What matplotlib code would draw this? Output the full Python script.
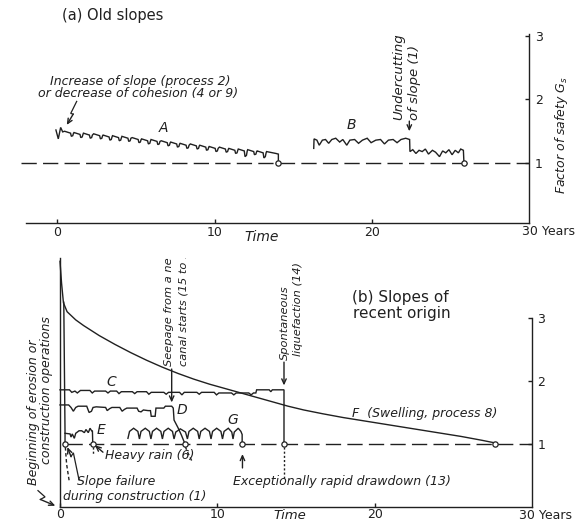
import matplotlib
matplotlib.use('Agg')
import matplotlib.pyplot as plt

plt.rcParams['font.family'] = ['DejaVu Sans']
plt.rcParams['lines.scale_dashes'] = False
plt.rcParams['mathtext.fontset'] = 'dejavusans'

INK = '#202020'
W, H = 578, 521

# ---------------- data ----------------
x_ticks = [0, 10, 20]
x_tick_labels = ['0', '10', '20']
y_ticks = [1, 2, 3]
y_tick_labels = ['1', '2', '3']
critical_gs = 1.0

# (a) old slopes
A_x = [-0.1, 0.05, 0.2, 0.33,
       0.45, 0.83, 0.88, 0.97, 1.02,
       1.05, 1.43, 1.48, 1.57, 1.62,
       1.65, 2.03, 2.08, 2.17, 2.22,
       2.3, 2.68, 2.73, 2.82, 2.87,
       2.9, 3.28, 3.33, 3.42, 3.47,
       3.5, 3.88, 3.93, 4.02, 4.07,
       4.1, 4.48, 4.53, 4.62, 4.67,
       4.75, 5.13, 5.18, 5.27, 5.32,
       5.35, 5.73, 5.78, 5.87, 5.92,
       5.95, 6.33, 6.38, 6.47, 6.52,
       6.6, 6.98, 7.03, 7.12, 7.17,
       7.2, 7.58, 7.63, 7.72, 7.77,
       7.8, 8.18, 8.23, 8.32, 8.37,
       8.45, 8.83, 8.88, 8.97, 9.02,
       9.05, 9.43, 9.48, 9.57, 9.62,
       9.65, 10.03, 10.08, 10.17, 10.22,
       10.3, 10.68, 10.73, 10.82, 10.87,
       10.9, 11.28, 11.33, 11.42, 11.47,
       11.5, 11.88, 11.93, 12.02, 12.07,
       12.1, 12.48, 12.53, 12.62, 12.67,
       12.7, 13.08, 13.13, 13.22, 13.27,
       13.3, 13.7, 13.9, 14.05, 14.05]
A_y = [1.52, 1.38, 1.56, 1.49,
       1.50, 1.47, 1.42, 1.43, 1.47,
       1.48, 1.45, 1.40, 1.41, 1.45,
       1.47, 1.44, 1.39, 1.40, 1.44,
       1.46, 1.43, 1.38, 1.39, 1.43,
       1.44, 1.41, 1.36, 1.37, 1.41,
       1.43, 1.40, 1.35, 1.36, 1.40,
       1.42, 1.39, 1.34, 1.35, 1.39,
       1.40, 1.37, 1.32, 1.33, 1.37,
       1.38, 1.35, 1.30, 1.31, 1.35,
       1.37, 1.34, 1.29, 1.30, 1.34,
       1.35, 1.32, 1.27, 1.28, 1.32,
       1.33, 1.30, 1.25, 1.26, 1.30,
       1.31, 1.28, 1.23, 1.24, 1.28,
       1.30, 1.27, 1.22, 1.23, 1.27,
       1.28, 1.25, 1.20, 1.21, 1.25,
       1.26, 1.23, 1.18, 1.19, 1.23,
       1.25, 1.22, 1.17, 1.18, 1.22,
       1.23, 1.20, 1.15, 1.16, 1.20,
       1.22, 1.19, 1.10, 1.12, 1.19,
       1.21, 1.18, 1.13, 1.14, 1.18,
       1.19, 1.16, 1.08, 1.10, 1.16,
       1.18, 1.16, 1.15, 1.14, 1.03]
B_x = [16.3, 16.32, 16.5, 16.65, 16.85, 17.05, 17.25, 17.45, 17.7, 17.95,
       18.15, 18.4, 18.6, 18.9, 19.15, 19.4, 19.7, 19.95, 20.25, 20.55,
       20.8, 21.05, 21.35, 21.6, 21.85, 22.15, 22.4, 22.42,
       22.6, 22.8, 23.0, 23.2, 23.4, 23.6, 23.85, 24.05, 24.3, 24.5,
       24.7, 24.9, 25.1, 25.3, 25.5, 25.65, 25.82, 25.85]
B_y = [1.23, 1.38, 1.36, 1.28, 1.36, 1.37, 1.31, 1.37, 1.39, 1.33,
       1.37, 1.28, 1.36, 1.37, 1.31, 1.36, 1.39, 1.32, 1.36, 1.37,
       1.30, 1.36, 1.37, 1.32, 1.37, 1.39, 1.37, 1.18,
       1.21, 1.15, 1.20, 1.18, 1.22, 1.14, 1.20, 1.17, 1.10, 1.19,
       1.16, 1.21, 1.13, 1.20, 1.16, 1.22, 1.20, 1.03]
old_failures_x = [14.05, 25.85]

# (b) slopes of recent origin
C_x = [0, 0.6, 0.75, 0.95, 1.1, 1.3, 1.9, 2.05, 2.2, 2.9, 3.05, 3.2, 3.6, 3.75, 3.9,
       4.6, 4.75, 4.9, 5.5, 5.65, 5.8, 6.6, 6.75, 6.9, 7.6, 7.75, 7.9, 8.7, 8.85, 9.0,
       9.8, 9.95, 10.1, 10.9, 11.05, 11.2, 12.0, 12.15, 12.3, 12.45, 12.5, 13.3, 13.4,
       13.5, 14.24, 14.24]
C_y = [1.86, 1.86, 1.82, 1.84, 1.81, 1.85, 1.85, 1.81, 1.84, 1.84, 1.81, 1.84, 1.84, 1.80, 1.83,
       1.83, 1.80, 1.83, 1.83, 1.79, 1.82, 1.82, 1.79, 1.82, 1.82, 1.78, 1.82, 1.82, 1.79, 1.82,
       1.82, 1.78, 1.81, 1.81, 1.78, 1.81, 1.81, 1.78, 1.81, 1.81, 1.86, 1.86, 1.83,
       1.86, 1.86, 1.03]
D_x = [0, 0.55, 0.7, 0.85, 1.0, 1.15, 1.7, 1.85, 2.0, 2.1, 2.3, 2.9, 3.0, 3.15, 3.3,
       3.8, 3.95, 4.1, 4.25, 4.9, 5.0, 5.15, 5.3, 5.6, 5.75, 5.8, 6.05, 6.1, 6.6, 6.7,
       7.1, 7.2, 7.25, 7.5, 7.72, 7.9]
D_y = [1.62, 1.62, 1.58, 1.52, 1.58, 1.60, 1.60, 1.50, 1.52, 1.58, 1.59, 1.58, 1.53, 1.56, 1.58,
       1.58, 1.52, 1.55, 1.57, 1.57, 1.52, 1.51, 1.54, 1.53, 1.53, 1.44, 1.44, 1.57, 1.57, 1.60,
       1.60, 1.57, 1.38, 1.26, 1.14, 1.03]
D_after_x = [7.96, 8.15, 8.4]
D_after_y = [0.96, 0.85, 0.72]
E_x = [0.32, 0.64, 0.70, 0.78, 0.91, 1.0, 1.21, 1.38, 1.55, 1.65, 1.8, 1.91, 2.01, 2.06, 2.08]
E_y = [1.17, 1.16, 1.11, 1.16, 1.09, 1.17, 1.21, 1.21, 1.18, 1.23, 1.18, 1.25, 1.21, 1.21, 1.03]
construction_x = [0.24, 0.32, 0.32]
construction_y = [3.25, 1.17, 1.03]
construction_after_x = [0.34, 0.42, 0.58]
construction_after_y = [0.95, 0.68, 0.42]
F_x = [0.0, 0.1, 0.22, 0.45, 1.0, 1.5, 2.5, 3.5, 4.5, 5.5, 6.5, 7.5, 8.5, 9.5, 10.5,
       11.5, 12.5, 13.5, 14.5, 15.5, 16.7, 18.0, 19.5, 21.0, 22.5, 24.0, 25.5, 26.8, 27.6]
F_y = [3.9, 3.55, 3.24, 3.1, 2.97, 2.88, 2.72, 2.58, 2.45, 2.33, 2.22, 2.12, 2.03, 1.95, 1.88,
       1.81, 1.74, 1.67, 1.60, 1.54, 1.48, 1.42, 1.36, 1.30, 1.24, 1.18, 1.12, 1.06, 1.02]
G_x = [4.32, 4.42, 4.68, 4.95, 5.05, 5.15, 5.42, 5.68, 5.78, 5.88, 6.14, 6.41,
       6.51, 6.61, 6.88, 7.15, 7.25, 7.36, 7.65, 7.98, 8.1, 8.2, 8.47, 8.75,
       8.85, 8.95, 9.22, 9.5, 9.6, 9.7, 9.96, 10.23, 10.33, 10.43, 10.7, 10.92,
       11.0, 11.08, 11.33, 11.5, 11.58, 11.58]
G_y = [1.09, 1.20, 1.25, 1.20, 1.08, 1.20, 1.25, 1.20, 1.08, 1.20, 1.25, 1.20,
       1.08, 1.20, 1.25, 1.20, 1.08, 1.19, 1.24, 1.19, 1.08, 1.20, 1.25, 1.20,
       1.08, 1.20, 1.25, 1.20, 1.08, 1.20, 1.25, 1.20, 1.08, 1.20, 1.25, 1.19,
       1.08, 1.19, 1.25, 1.20, 1.15, 1.03]
recent_failures_x = [0.32, 2.08, 7.93, 11.58, 14.24, 27.65]

# ---------------- figure ----------------
fig = plt.figure(figsize=(W / 100, H / 100), dpi=100)
fig.patch.set_facecolor('white')


def axes_from_px(x0, y0, sx, sy, xlim, ylim):
    left = x0 + xlim[0] * sx
    right = x0 + xlim[1] * sx
    top = y0 - ylim[1] * sy
    bottom = y0 - ylim[0] * sy
    ax = fig.add_axes([left / W, 1 - bottom / H, (right - left) / W, (bottom - top) / H])
    ax.set_xlim(*xlim)
    ax.set_ylim(*ylim)
    ax.patch.set_alpha(0)
    return ax


def frame(ax, xaxis_y, xaxis_from, right_from, right_to, left_spine=None, xpad=2):
    ax.spines['top'].set_visible(False)
    if left_spine is None:
        ax.spines['left'].set_visible(False)
    else:
        ax.spines['left'].set_position(('data', 0))
        ax.spines['left'].set_bounds(0, left_spine)
    ax.spines['bottom'].set_position(('data', xaxis_y))
    ax.spines['bottom'].set_bounds(xaxis_from, 30)
    ax.spines['right'].set_position(('data', 30))
    ax.spines['right'].set_bounds(right_from, right_to)
    for s in ax.spines.values():
        s.set_color(INK)
        s.set_linewidth(1.0)
    ax.yaxis.tick_right()
    ax.set_xticks(x_ticks)
    ax.set_xticklabels(x_tick_labels)
    ax.set_yticks(y_ticks)
    ax.set_yticklabels(y_tick_labels)
    ax.tick_params(axis='x', direction='in', length=3, width=1.0, pad=xpad,
                   labelsize=9, colors=INK)
    ax.tick_params(axis='y', direction='in', length=3, width=1.0, pad=4,
                   labelsize=9, colors=INK, left=False, right=True)


def line(ax, xs, ys, **kw):
    kw.setdefault('color', INK)
    kw.setdefault('lw', 1.0)
    ax.plot(xs, ys, solid_joinstyle='miter', **kw)


def arrow(ax, tail, tip):
    ax.annotate('', xy=tip, xytext=tail,
                arrowprops=dict(arrowstyle='->,head_length=0.35,head_width=0.16',
                                color=INK, lw=1.0, shrinkA=0, shrinkB=0))


def zigzag(ax, xs, ys):
    line(ax, xs[:-1], ys[:-1], lw=0.9)
    arrow(ax, (xs[-2], ys[-2]), (xs[-1], ys[-1]))


def circles(ax, xs):
    ax.plot(xs, [critical_gs] * len(xs), 'o', ms=3.8, mfc='white', mec=INK,
            mew=0.9, zorder=6, clip_on=False)


IT = dict(style='italic', color=INK)

# ---------- (a) Old slopes ----------
ax1 = axes_from_px(57.5, 226.5, 15.72, 63.5, (-3.6, 33.0), (-0.12, 3.5))
frame(ax1, 0.05, -2.0, 0.05, 3.03)
ax1.plot([-2.3, 30], [critical_gs, critical_gs], color=INK, lw=1.0, dashes=(11, 4.5))
line(ax1, A_x, A_y)
line(ax1, B_x, B_y)
circles(ax1, old_failures_x)

ax1.text(0.29, 3.33, '(a) Old slopes', fontsize=10.5, color=INK, va='center', ha='left')
ax1.text(-0.48, 2.29, 'Increase of slope (process 2)', fontsize=9, va='center', **IT)
ax1.text(-1.24, 2.09, 'or decrease of cohesion (4 or 9)', fontsize=9, va='center', **IT)
zigzag(ax1, [1.22, 0.84, 1.0, 0.59], [1.97, 1.78, 1.77, 1.60])
ax1.text(6.73, 1.55, 'A', fontsize=10, ha='center', va='center', **IT)
ax1.text(18.71, 1.60, 'B', fontsize=10, ha='center', va='center', **IT)
ax1.text(21.68, 1.68, 'Undercutting', fontsize=9.5, rotation=90, ha='center', va='bottom', **IT)
ax1.text(22.74, 1.68, 'of slope (1)', fontsize=9.5, rotation=90, ha='center', va='bottom', **IT)
arrow(ax1, (22.38, 1.66), (22.38, 1.50))
ax1.text(32.07, 1.44, r'Factor of safety $G_s$', fontsize=9, rotation=90,
         ha='center', va='center', **IT)
ax1.text(12.98, -0.16, 'Time', fontsize=10, ha='center', va='center', **IT)
ax1.text(29.52, -0.08, '30 Years', fontsize=9, color=INK, ha='left', va='center')

# ---------- (b) Slopes of recent origin ----------
ax2 = axes_from_px(60, 507, 15.73, 63, (-3.75, 32.85), (-0.2, 3.95))
frame(ax2, 0.0, 0.0, 0.0, 3.0, left_spine=3.95, xpad=1)
ax2.plot([0.45, 30], [critical_gs, critical_gs], color=INK, lw=1.0, dashes=(11, 4.5))
line(ax2, F_x, F_y)
line(ax2, C_x, C_y)
line(ax2, D_x, D_y)
line(ax2, E_x, E_y)
line(ax2, G_x, G_y)
line(ax2, construction_x, construction_y)
line(ax2, construction_after_x, construction_after_y, dashes=(2.5, 1.8))
line(ax2, D_after_x, D_after_y, dashes=(2.5, 1.8))
line(ax2, [2.08, 2.08], [0.95, 0.84], dashes=(1.5, 1.5))
line(ax2, [14.24, 14.24], [0.95, 0.45], dashes=(1.5, 1.5))
circles(ax2, recent_failures_x)

ax2.text(18.56, 3.32, '(b) Slopes of', fontsize=11, color=INK, ha='left', va='center')
ax2.text(18.63, 3.07, 'recent origin', fontsize=11, color=INK, ha='left', va='center')
ax2.text(3.29, 1.99, 'C', fontsize=10, ha='center', va='center', **IT)
ax2.text(7.74, 1.54, 'D', fontsize=10, ha='center', va='center', **IT)
ax2.text(2.6, 1.22, 'E', fontsize=10, ha='center', va='center', **IT)
ax2.text(11.0, 1.38, 'G', fontsize=10, ha='center', va='center', **IT)
ax2.text(18.55, 1.49, 'F  (Swelling, process 8)', fontsize=9, ha='left', va='center', **IT)
ax2.text(2.86, 0.81, 'Heavy rain (6)', fontsize=9, ha='left', va='center', **IT)
arrow(ax2, (2.73, 0.87), (2.22, 0.98))
ax2.text(1.08, 0.40, 'Slope failure', fontsize=9, ha='left', va='center', **IT)
ax2.text(0.19, 0.16, 'during construction (1)', fontsize=9, ha='left', va='center', **IT)
zigzag(ax2, [1.21, 0.85, 0.70, 0.47], [0.43, 0.86, 0.80, 0.95])
ax2.text(11.0, 0.40, 'Exceptionally rapid drawdown (13)', fontsize=9, ha='left',
         va='center', **IT)
arrow(ax2, (11.6, 0.62), (11.6, 0.84))
ax2.text(6.95, 2.24, 'Seepage from a new', fontsize=8.2, rotation=90, ha='center',
         va='bottom', clip_on=True, **IT)
ax2.text(7.85, 2.24, 'canal starts (15 to 18)', fontsize=8.2, rotation=90, ha='center',
         va='bottom', clip_on=True, **IT)
arrow(ax2, (7.1, 2.19), (7.1, 1.66))
ax2.text(14.3, 2.33, 'Spontaneous', fontsize=8.2, rotation=90, ha='center',
         va='bottom', clip_on=True, **IT)
ax2.text(15.15, 2.40, 'liquefaction (14)', fontsize=8.2, rotation=90, ha='center',
         va='bottom', clip_on=True, **IT)
arrow(ax2, (14.24, 2.30), (14.24, 1.93))
ax2.text(-1.70, 1.51, 'Beginning of erosion or', fontsize=9, rotation=90,
         ha='center', va='center', **IT)
ax2.text(-0.83, 1.86, 'construction operations', fontsize=9, rotation=90,
         ha='center', va='center', **IT)
zigzag(ax2, [-1.4, -0.95, -1.25, -0.3], [0.26, 0.16, 0.12, 0.02])
ax2.text(14.6, -0.13, 'Time', fontsize=9.5, ha='center', va='center', **IT)
ax2.text(29.2, -0.13, '30 Years', fontsize=9, color=INK, ha='left', va='center')

fig.savefig('out.png', dpi=100, facecolor='white')
